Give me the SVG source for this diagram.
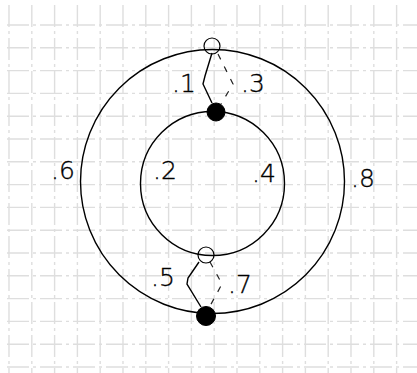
<svg xmlns="http://www.w3.org/2000/svg" width="417" height="373" viewBox="0 0 417 373">
<style>
.grid line{stroke:#dedede;stroke-width:1.4;stroke-dasharray:22 4 3 4}
.edge{fill:none;stroke:#000;stroke-width:1.4}
.dash{fill:none;stroke:#222;stroke-width:1.2;stroke-dasharray:6 8}
.open{fill:none;stroke:#000;stroke-width:1.2}
.solid{fill:#000;stroke:#000;stroke-width:1}
text{font-family:"DejaVu Sans","Liberation Sans",sans-serif;font-size:25px;font-weight:200;fill:#000;stroke:#000;stroke-width:0.35}
</style>
<rect width="417" height="373" fill="#fff"/>
<g class="grid">
<line x1="9" y1="5" x2="9" y2="373"/><line x1="31.8" y1="5" x2="31.8" y2="373"/><line x1="54.6" y1="5" x2="54.6" y2="373"/><line x1="77.4" y1="5" x2="77.4" y2="373"/><line x1="100.2" y1="5" x2="100.2" y2="373"/><line x1="123" y1="5" x2="123" y2="373"/><line x1="145.8" y1="5" x2="145.8" y2="373"/><line x1="168.6" y1="5" x2="168.6" y2="373"/><line x1="191.4" y1="5" x2="191.4" y2="373"/><line x1="214.2" y1="5" x2="214.2" y2="373"/><line x1="237" y1="5" x2="237" y2="373"/><line x1="259.8" y1="5" x2="259.8" y2="373"/><line x1="282.6" y1="5" x2="282.6" y2="373"/><line x1="305.4" y1="5" x2="305.4" y2="373"/><line x1="328.2" y1="5" x2="328.2" y2="373"/><line x1="351" y1="5" x2="351" y2="373"/><line x1="373.8" y1="5" x2="373.8" y2="373"/><line x1="396.6" y1="5" x2="396.6" y2="373"/>
<line x1="7" y1="25" x2="417" y2="25"/><line x1="7" y1="47.8" x2="417" y2="47.8"/><line x1="7" y1="70.6" x2="417" y2="70.6"/><line x1="7" y1="93.4" x2="417" y2="93.4"/><line x1="7" y1="116.2" x2="417" y2="116.2"/><line x1="7" y1="139" x2="417" y2="139"/><line x1="7" y1="161.8" x2="417" y2="161.8"/><line x1="7" y1="184.6" x2="417" y2="184.6"/><line x1="7" y1="207.4" x2="417" y2="207.4"/><line x1="7" y1="230.2" x2="417" y2="230.2"/><line x1="7" y1="253" x2="417" y2="253"/><line x1="7" y1="275.8" x2="417" y2="275.8"/><line x1="7" y1="298.6" x2="417" y2="298.6"/><line x1="7" y1="321.4" x2="417" y2="321.4"/><line x1="7" y1="344.2" x2="417" y2="344.2"/><line x1="7" y1="367" x2="417" y2="367"/>
</g>
<g id="connectors">
<circle class="edge" cx="212.5" cy="181.5" r="132"/>
<circle class="edge" cx="212.5" cy="183.5" r="72"/>
<polyline class="edge" points="212,53 205,76 203,84 212,103"/>
<polyline class="dash" points="218,54 233,84 221,104"/>
<polyline class="edge" points="199,262 188,278 187,284 201,307"/>
<polyline class="dash" points="210,262 222,284 210,306"/>
</g>
<g id="n-top-open"><circle class="open" cx="212" cy="46" r="8"/></g>
<g id="n-top-solid"><circle class="solid" cx="216" cy="112" r="9"/></g>
<g id="n-bottom-open"><circle class="open" cx="206" cy="255" r="8"/></g>
<g id="n-bottom-solid"><circle class="solid" cx="206" cy="316" r="9.5"/></g>
<g id="labels">
<text x="172" y="92">.1</text>
<text x="241" y="92">.3</text>
<text x="153" y="179">.2</text>
<text x="252" y="182">.4</text>
<text x="51" y="179">.6</text>
<text x="351" y="187">.8</text>
<text x="151" y="286">.5</text>
<text x="228" y="293">.7</text>
</g>
</svg>
